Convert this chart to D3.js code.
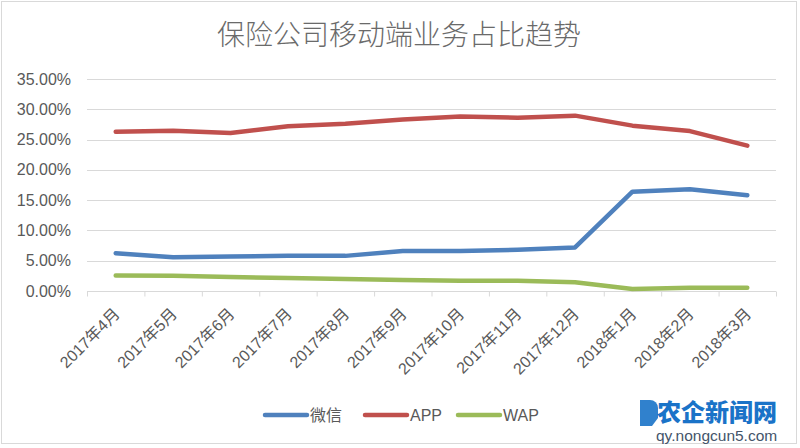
<!DOCTYPE html>
<html><head><meta charset="utf-8">
<script src="https://cdn.jsdelivr.net/npm/d3@7"></script>
<style>
body{margin:0;background:#fff;}
text{font-family:"Liberation Sans","Noto Sans CJK SC",sans-serif;}
</style></head>
<body><svg id="c" width="800" height="448"></svg>
<script>
const title = "保险公司移动端业务占比趋势";
const categories = ["2017年4月","2017年5月","2017年6月","2017年7月","2017年8月","2017年9月","2017年10月","2017年11月","2017年12月","2018年1月","2018年2月","2018年3月"];
const seriesNames = ["微信","APP","WAP"];
const wechat = [6.24,5.58,5.68,5.80,5.80,6.60,6.60,6.80,7.20,16.40,16.80,15.80];
const app = [26.30,26.45,26.10,27.20,27.60,28.30,28.80,28.60,28.95,27.30,26.40,24.00];
const wap = [2.54,2.50,2.30,2.15,2.00,1.80,1.70,1.70,1.45,0.33,0.55,0.55];
const yTicks = [0,5,10,15,20,25,30,35];
const colors = ["#4F81BD","#C0504D","#9BBB59"];

const svg = d3.select("#c");
// border
svg.append("rect").attr("x",1.5).attr("y",1.5).attr("width",795).attr("height",442)
  .attr("fill","#fff").attr("stroke","#D9D9D9").attr("stroke-width",1);

const L=87, R=776, T=79, B=291;
const x = d3.scaleBand().domain(categories).range([L,R]);
const y = d3.scaleLinear().domain([0,35]).range([B,T]);

// title
svg.append("text").attr("x",399).attr("y",45).attr("text-anchor","middle")
  .attr("font-size",28).attr("fill","#6a6a6a")
  .style("font-family","'Noto Sans CJK SC',sans-serif").style("font-weight",300)
  .text(title);

// gridlines
svg.append("g").selectAll("line").data(yTicks.filter(d=>d>0)).join("line")
  .attr("x1",L).attr("x2",R).attr("y1",d=>Math.round(y(d))+0.5).attr("y2",d=>Math.round(y(d))+0.5)
  .attr("stroke","#D9D9D9").attr("stroke-width",1);

// y axis labels
const yAxis = d3.axisLeft(y).tickValues(yTicks).tickSize(0).tickPadding(0)
  .tickFormat(d=>d3.format(".2f")(d)+"%");
const ga = svg.append("g").attr("transform",`translate(${L-16},0)`).call(yAxis);
ga.select(".domain").remove();
ga.selectAll("text").attr("font-size",16).attr("fill","#595959")
  .style("font-family","'Liberation Sans',sans-serif");

// x axis
const xAxis = d3.axisBottom(d3.scaleLinear().domain([0,categories.length]).range([L,R]))
  .tickValues(d3.range(0,categories.length+1)).tickSize(6).tickFormat("");
const gx = svg.append("g").attr("transform",`translate(0,${Math.round(B)+0.5})`).call(xAxis);
gx.select(".domain").attr("stroke","#D9D9D9").attr("d",`M${L},0H${R}`);
gx.selectAll(".tick line").attr("stroke","#D9D9D9").attr("y1",0).attr("y2",5);

svg.append("g").selectAll("text").data(categories).join("text")
  .attr("transform",d=>`translate(${x(d)+x.bandwidth()/2+5},${B+24}) rotate(-45)`)
  .attr("text-anchor","end").attr("font-size",16).attr("fill","#595959")
  .style("font-family","'Liberation Sans','Noto Sans CJK SC',sans-serif")
  .text(d=>d);

// lines
const data = [wechat, app, wap];
const line = d3.line().x((d,i)=>x(categories[i])+x.bandwidth()/2).y(d=>y(d));
svg.append("g").selectAll("path").data(data).join("path")
  .attr("d",line).attr("fill","none").attr("stroke",(d,i)=>colors[i])
  .attr("stroke-width",4.5).attr("stroke-linecap","round").attr("stroke-linejoin","round");

// legend
const legX = [265,365,458];
const lg = svg.append("g").selectAll("g").data(seriesNames).join("g")
  .attr("transform",(d,i)=>`translate(${legX[i]},415)`);
lg.append("line").attr("x1",0).attr("x2",42).attr("y1",0).attr("y2",0)
  .attr("stroke",(d,i)=>colors[i]).attr("stroke-width",4.5).attr("stroke-linecap","round");
lg.append("text").attr("x",45).attr("y",6).attr("font-size",16).attr("fill","#595959")
  .style("font-family","'Liberation Sans','Noto Sans CJK SC',sans-serif").text(d=>d);

// watermark
const wm = svg.append("g");
wm.append("path").attr("d","M640,400 h10 a8,8 0 0 1 8,8 v10 l-6,8 h-12 z").attr("fill","#1a73c8").attr("opacity",0.9);
wm.append("text").attr("x",657).attr("y",421).attr("font-size",24).attr("font-weight",900)
  .attr("fill","#1a73c8").style("font-family","'Noto Sans CJK SC',sans-serif").text("农企新闻网");
wm.append("text").attr("x",656).attr("y",441).attr("font-size",15.5).attr("fill","#44546a")
  .style("font-family","'Liberation Sans',sans-serif").text("qy.nongcun5.com");
</script></body></html>
